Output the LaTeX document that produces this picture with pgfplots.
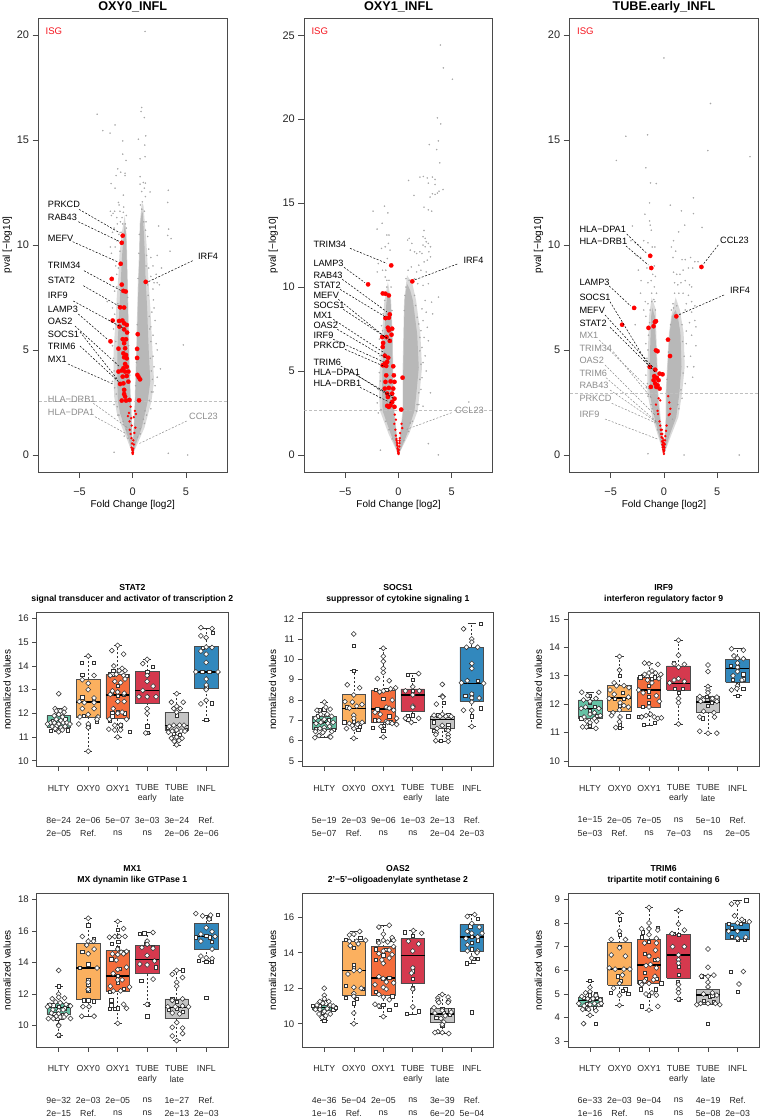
\documentclass[border=0pt]{standalone}
\usepackage{fontspec}
\setmainfont{Liberation Sans}
\usepackage{pgfplots}
\pgfplotsset{compat=1.18}
\definecolor{axln}{HTML}{4A4A4A}
\definecolor{cloud}{HTML}{B8B8B8}
\definecolor{halo}{HTML}{DADADA}
\definecolor{dotg}{HTML}{A6A6A6}
\definecolor{isg}{HTML}{F5141E}
\definecolor{lblg}{HTML}{8C8C8C}
\definecolor{cHLTY}{HTML}{66C2A5}
\definecolor{cOXYz}{HTML}{FBB05F}
\definecolor{cOXYo}{HTML}{F46D3C}
\definecolor{cTUBe}{HTML}{D5394E}
\definecolor{cTUBl}{HTML}{C4C4C4}
\definecolor{cINFL}{HTML}{3288BD}
\pgfplotsset{
  every axis title shift=0pt,
  common/.style={scale only axis,anchor=south west,
    axis line style={draw=axln,line width=.75pt},
    tick style={draw=axln,line width=.6pt},
    tick align=outside,tick pos=left,
    /pgf/number format/assume math mode=true,
    every tick label/.append style={text=black!85}},
  volcano/.style={common,width=188.5bp,height=454bp,
    xmin=-8.85,xmax=8.85,xtick={-5,0,5},xticklabels={−5,0,5},
    major tick length=6bp,
    tick label style={font=\fontsize{11}{13}\selectfont},
    xticklabel style={yshift=-6bp},
    label style={font=\fontsize{10.6}{13}\selectfont},
    title style={font=\fontsize{12.7}{15}\selectfont\bfseries,at={(axis description cs:0.5,1.024)},anchor=center},
    every axis x label/.style={at={(axis description cs:0.5,-0.0727)},anchor=center},
    every axis y label/.style={at={(axis description cs:-0.165,0.5)},rotate=90,anchor=center},
    xlabel={Fold Change [log2]},ylabel={pval [−log10]}},
  panel/.style={common,width=191.3bp,height=154bp,
    xmin=0.254,xmax=6.74,xtick={1,...,6},xticklabels={},
    major tick length=4.5bp,
    tick label style={font=\fontsize{9.6}{12}\selectfont},
    label style={font=\fontsize{9.8}{12}\selectfont},
    title style={font=\fontsize{8.7}{11}\selectfont\bfseries,align=center,at={(axis description cs:0.5,1.121)},anchor=center},
    every axis y label/.style={at={(axis description cs:-0.155,0.5)},rotate=90,anchor=center},
    ylabel={normalized values}},
  gdot/.style={only marks,mark=*,mark size=.65bp,color=dotg,mark options={draw=dotg,fill=dotg,line width=.2pt}},
  rbig/.style={only marks,mark=*,mark size=2.2bp,color=red,mark options={draw=red,fill=red,line width=.2pt}},
  rsml/.style={only marks,mark=*,mark size=1.1bp,color=red,mark options={draw=red,fill=red,line width=.2pt}},
  cld/.style={draw=none,fill=cloud},
  hal/.style={draw=none,fill=halo},
  thr/.style={draw=black!25,line width=.7pt,dash pattern=on 3bp off 2bp},
  dia/.style={only marks,mark=square*,mark size=1.75bp,color=black!80,mark options={draw=black!80,fill=white,line width=.55pt,rotate=45}},
  sqr/.style={only marks,mark=square*,mark size=1.65bp,color=black!80,mark options={draw=black!80,fill=white,line width=.55pt}},
  wsk/.style={draw=black!80,line width=.6pt},
}
% whisker low, q1, median, q3, whisker high at position #1, fill #7
\newcommand\bx[7]{%
  \addplot[wsk,dash pattern=on 2bp off 2bp] coordinates {(#1,#2) (#1,#3)};
  \addplot[wsk,dash pattern=on 2bp off 2bp] coordinates {(#1,#5) (#1,#6)};
  \addplot[wsk] coordinates {(#1-.14,#2) (#1+.14,#2)};
  \addplot[wsk] coordinates {(#1-.14,#6) (#1+.14,#6)};
  \addplot[draw=black!70,fill=#7,line width=.6pt] coordinates {(#1-.4,#3) (#1+.4,#3) (#1+.4,#5) (#1-.4,#5) (#1-.4,#3)};
  \addplot[draw=black,line width=1.5pt] coordinates {(#1-.4,#4) (#1+.4,#4)};
}
% category and p value rows under a panel: x of first category, four y
\newcommand\rows[4]{%
  \foreach \t [count=\i from 0] in {HLTY,OXY0,OXY1,TUBE,TUBE,INFL}
    \node[lab8] at (#1+\i*29.53,#2) {\t};
  \node[lab8] at (#1+3*29.53,#2+10.7) {early};
  \node[lab8] at (#1+4*29.53,#2+10.7) {late};
  \foreach \t [count=\i from 0] in {#3}
    \node[lab8] at (#1+\i*29.53,#2+32) {\t};
  \foreach \t [count=\i from 0] in {#4}
    \node[lab8] at (#1+\i*29.53,#2+45.3) {\t};
}
% gene label with leader: text left x, y, name, colour, leader x1 y1 x2 y2 (pixels)
\newcommand\gl[7]{%
  \node[anchor=west,inner sep=0pt,font=\fontsize{9.2}{11}\selectfont,text=#4] at (#1,#2) {#3};
  \draw[#4,line width=.5pt,dash pattern=on 2bp off 1.6bp] (#5,#6) -- (#7);
}
\begin{document}
\begin{tikzpicture}
\useasboundingbox (0,0) rectangle (761bp,-1119bp);

% ---------- volcano 1
\begin{axis}[volcano,at={(38.5bp,-472bp)},ymin=-0.81,ymax=20.8,ytick={0,5,10,15,20},title={OXY0\_INFL}]
\addplot[hal] coordinates {(0,0) (-.5,.7) (-1,1.3) (-1.5,2) (-1.75,2.8) (-1.8,4) (-1.8,5) (-1.6,6.5) (-1.5,7.5) (-1.35,8.5) (-1.25,9.5) (-1.05,10.5) (-.75,11.4) (-.58,10.5) (-.5,9) (-.45,8) (-.37,6) (-.3,4.5) (-.2,3) (-.1,2) (-.02,.8) (0,0)};
\addplot[hal] coordinates {(0,0) (.02,.8) (.1,1.6) (.18,2.5) (.32,5) (.47,8) (.58,9.5) (.65,11) (.85,12) (1,11.9) (1.3,10) (1.45,8.5) (1.65,7) (1.85,5) (2,3.5) (1.75,2.54) (1.1,1.3) (.5,.6) (0,0)};
\addplot[cld] coordinates {(0,0) (-.35,.7) (-.75,1.3) (-1.2,2) (-1.4,2.6) (-1.45,3.5) (-1.45,5) (-1.3,6.5) (-1.2,7.5) (-1.1,8.5) (-1,9.5) (-.85,10.5) (-.75,11) (-.62,10.5) (-.55,9) (-.5,8) (-.42,6) (-.35,4.5) (-.25,3) (-.15,2) (-.05,.8) (0,0)};
\addplot[cld] coordinates {(0,0) (.06,.8) (.15,1.6) (.22,2.5) (.38,5) (.53,8) (.63,9.5) (.7,11) (.85,11.6) (.95,11.5) (1.1,10) (1.2,8.5) (1.35,7) (1.5,5) (1.65,3.5) (1.4,2.54) (.85,1.3) (.35,.6) (0,0)};
\addplot[thr] coordinates {(-8.85,2.54) (8.85,2.54)};
\addplot[gdot] coordinates {(1.16,20.16) (.84,16.54) (.78,16.35) (1.09,16.06) (-3.34,16.22) (-2.81,15.44) (-1.66,15.71) (-2.13,15.32) (.53,15.03) (1.22,15.19) (-.94,14.95) (1.13,14.75) (-.94,14.32) (-.63,14.02) (.69,14.1) (1.16,14.2) (-1.41,13.62) (-1.13,13.46) (-1.56,13.3) (-.72,13.41) (-.72,13.3) (.69,13.25) (-2.03,12.92) (-1.66,12.7) (.69,12.89) (1,12.97) (1.19,12.94) (1.09,12.7) (.84,12.54) (1.63,12.52) (3.34,12.6) (-.88,12.37) (3.28,12.02) (-1.34,12.02) (1.19,12.3) (.9,12.05) (.72,11.9) (.85,11.7) (1.1,11.6) (-1.28,11.9) (-1.2,11.6) (-.88,11.55) (-1.7,11.6) (-2.1,11.6) (-2,11.4) (-1.85,11.5) (-1.5,11.3) (-1,11.3) (-1.15,11.1) (-.7,11) (-1.45,11) (-1.75,10.8) (-1.9,10.6) (1.25,11.1) (1.03,11.1) (2.43,10.9) (3.37,10.75) (3.28,10.45) (3.6,10.3) (1.4,10.4) (1.2,10.7) (-1.3,10.5) (-1.5,10.2) (-1.65,9.9) (-2.1,9.9) (-2,9.6) (1.5,9.8) (1.7,9.4) (2.3,9.5) (2.7,8.9) (3.5,9.7) (1.9,9) (2.2,8.6) (1.5,8.9) (1.7,8.5) (2,8.2) (2.5,8.1) (2.3,8.2) (1.9,7.9) (-1.6,9) (-1.5,8.6) (-1.7,7.8) (-2.4,7.3) (-1.9,7) (-1.7,6.7) (1.94,7.38) (2,7) (1.8,6.8) (2.1,6.4) (1.7,6.1) (1.9,5.7) (2.2,5.3) (2.3,5) (4.75,5.24) (2.6,4.1) (1.9,4.7) (2,4.2) (2.3,3.7) (2.1,3.3) (1.9,3) (-1.8,6) (-1.9,5.2) (-1.8,4.6) (-1.75,4) (-1.9,3.5) (-1.7,3.2) (-1.75,2.4) (-1.75,.13) (3.34,.08) (5.16,0) (1.7,2.2) (1.3,1.9) (-1.4,1.9) (-.8,.9) (.7,1) (1.1,1.5) (-1.5,8) (-1.4,7.2) (-1.35,8.9) (-1.2,9.7) (-1.1,10.6) (-.95,11) (-.6,11.4) (-.85,11.8) (1.3,9.5) (1.25,9) (1.4,8.1) (1.45,7.6) (1.55,6.6) (1.6,6) (1.7,5.4) (1.65,4.6) (1.75,4) (1.85,3.6) (1.75,3) (1.55,2.6) (-1.55,6.2) (-1.6,5.4) (-1.6,4.4) (-1.6,3.6) (-1.55,2.9) (-1.45,2.3) (-1.3,1.9) (1.15,2.1) (1,1.7) (.7,1.25) (-.9,1.6) (-.6,1.2) (-.45,.8) (.45,.85) (-.6,10.8) (.62,10.5) (.58,9.6) (.5,8.4) (-.48,7.5) (.42,6.2) (-.38,5.2) (.35,4.4) (-.28,3.8) (.27,3.3)};
\addplot[rsml] coordinates {(-.2,2.3) (.2,2.1) (.1,1.8) (-.15,1.75) (.3,1.95) (-.3,1.6) (-.1,1.4) (.25,1.3) (.15,1.05) (-.28,1.2) (-.2,1) (-.12,.8) (.05,.7) (.1,.5) (-.06,.55) (-.1,.35) (-.04,.25) (.04,.3) (.02,.12) (-.03,.1) (0,.05) (0,.2) (-.35,2) (-.45,1.85)};
\addplot[rbig] coordinates {(-.94,10.44) (-1.03,10.1) (-1.13,9.1) (-1.97,8.38) (-1.03,8.11) (-.88,7.81) (-.66,7.78) (-1.19,7.03) (-.81,7.02) (-1.88,6.4) (-1.28,6.38) (-.97,6.4) (-.81,6.27) (-.56,6.19) (-1.25,6.11) (-.81,5.98) (-.53,5.83) (-2.09,5.41) (-.94,5.51) (-.63,5.51) (-.81,5.32) (-1.34,5.06) (-.72,5.08) (-.88,4.84) (-.63,4.76) (-.81,4.65) (-.56,4.6) (-.72,4.33) (-.88,4.13) (-.56,4.2) (-1.34,3.97) (-1.03,4.02) (-.72,3.97) (-.41,3.97) (-.94,3.73) (-.56,3.76) (-1.19,3.38) (-.88,3.41) (-.41,3.49) (-.81,3.1) (-.81,2.9) (-1.03,2.59) (-.63,2.59) (-.31,2.62) (-.72,2.78) (1.22,8.24) (.47,5.75) (.41,5.05) (.41,4.62) (.44,3.81) (.56,3.7) (.69,3.6) (.59,2.6)};
\end{axis}

% ---------- volcano 2
\begin{axis}[volcano,at={(304.3bp,-472bp)},ymin=-1.02,ymax=26.03,ytick={0,5,10,15,20,25},title={OXY1\_INFL}]
\addplot[hal] coordinates {(0,0) (-.95,1.27) (-1.75,2.64) (-1.85,4) (-1.75,5.2) (-1.55,7.2) (-1.35,9) (-1,10.3) (-.7,9.2) (-.55,7.2) (-.5,5) (-.38,2.64) (-.17,1.27) (0,0)};
\addplot[hal] coordinates {(0,0) (.14,1.27) (.38,2.64) (.38,5) (.45,7.2) (.52,9.2) (.8,10.7) (1.3,10.2) (1.65,9.2) (2.05,7.2) (2.2,5.2) (1.95,3.5) (1.8,2.64) (1,1.27) (0,0)};
\addplot[cld] coordinates {(0,0) (-.75,1.27) (-1.5,2.64) (-1.55,4) (-1.5,5.2) (-1.35,7.2) (-1.15,9) (-1,9.8) (-.75,9.2) (-.6,7.2) (-.55,5) (-.44,2.64) (-.22,1.27) (0,0)};
\addplot[cld] coordinates {(0,0) (.19,1.27) (.44,2.64) (.44,5) (.5,7.2) (.57,9.2) (.8,10.2) (1.1,9.8) (1.35,9.2) (1.75,7.2) (1.9,5.2) (1.65,3.5) (1.5,2.64) (.82,1.27) (0,0)};
\addplot[thr] coordinates {(-8.85,2.64) (8.85,2.64)};
\addplot[gdot] coordinates {(3.93,24.42) (4.21,23.06) (5.06,22.38) (3.65,20.08) (3.96,19.72) (2.89,18.49) (3.74,18.71) (3.58,18.19) (3.87,17.4) (2.01,16.55) (2.33,16.59) (2.7,16.5) (3.18,16.55) (3.43,16.41) (.94,16.35) (2.8,16.19) (3.43,16.11) (4.18,15.81) (3.8,15.71) (3.18,15.56) (2.96,15.36) (3.43,15.52) (1.45,15.46) (3.65,15.6) (-1.32,14.82) (-2.39,14.52) (-1,14.42) (2.39,14.76) (2.8,14.6) (3.11,14.52) (-1.54,13.8) (-2.01,13.45) (2.39,13.37) (2.3,13) (2.5,12.9) (2.6,12.7) (2.8,12.6) (2.3,12.5) (2.5,12.4) (3,12.4) (2.85,12.1) (1,12.9) (.85,12.8) (1.25,12.6) (1.1,12.2) (1.5,12.1) (1.7,12) (2,12.1) (2.2,12) (-.9,13.1) (-1.1,13.1) (-.95,12.6) (-1.25,12.4) (-.8,12.2) (-1.6,12.3) (-1.05,11.7) (-1.9,11.4) (-1.5,11) (-1.2,11) (-2,10.9) (-1.25,10.6) (-1.1,10.4) (3,11.8) (2.7,11.6) (2.4,11.5) (1.9,11.3) (1.2,11.2) (.9,11) (1.7,10.9) (2.1,11) (2.6,10.9) (.7,10.5) (1.5,10.5) (1.8,10.2) (2.3,10.1) (2.8,10.2) (3.75,9.4) (3.1,9.1) (2.5,9.2) (2.2,8.7) (2.6,8.5) (3.2,8.4) (2.3,8) (2.7,7.6) (2.1,7.4) (2.4,7) (2.8,6.8) (2.2,6.4) (2.5,5.9) (2.3,5.5) (2.6,5) (2.2,4.6) (3,3.7) (2.1,3.9) (-1.5,9.6) (-1.7,8.8) (-1.6,7.7) (-1.8,6.9) (-1.75,5.9) (-1.8,4.9) (-1.9,3.9) (-2,3.1) (-1.9,2.5) (6.6,3.15) (-1.7,.28) (2.8,.67) (3.74,0) (1.9,3) (2.3,2.9) (1.5,9.5) (1.6,8.9) (1.75,8.2) (1.9,7.8) (2,7) (2,6.2) (2.1,5.4) (2,4.5) (1.9,3.7) (1.75,3) (1.7,2.6) (1.1,1.9) (.95,1.4) (1.3,2) (-1.3,9.2) (-1.45,8.4) (-1.5,7.4) (-1.6,6.4) (-1.65,5.6) (-1.7,4.4) (-1.7,3.4) (-1.65,2.7) (-1.2,2) (-.9,1.5) (-.6,.95) (.5,.85) (1,10.4) (.7,10) (.6,9.5) (.54,8.6) (-1.1,10) (-.9,10.4) (-.7,10) (-.62,8.6)};
\addplot[rsml] coordinates {(-.35,2.4) (-.25,2.1) (-.4,1.85) (-.3,1.5) (.28,1.85) (.35,1.6) (.15,1.3) (-.25,1.15) (-.2,.95) (.12,1) (-.15,.75) (.08,.7) (-.12,.55) (.06,.5) (-.09,.4) (.04,.3) (-.05,.2) (.02,.12) (0,.05) (-.03,.1) (-.18,.85) (-.13,.65) (.1,.85) (-.07,.3)};
\addplot[rbig] coordinates {(-.69,11.29) (-2.86,10.16) (1.29,10.34) (-1.48,9.62) (-1.23,9.6) (-.91,9.5) (-.82,8.37) (-1.23,8.15) (-.91,8.17) (-1,7.58) (-.6,7.52) (-.91,7.42) (-.66,7.16) (-1.54,7.02) (-1.13,7.02) (-.82,6.79) (-1.45,6.67) (-1.48,6.43) (-1.29,5.91) (-.97,5.79) (-1.29,5.44) (-1.07,5.54) (-1.48,5.34) (-1.16,5.3) (-.5,5.28) (-1.16,4.74) (-.44,4.74) (-1.23,4.35) (-.75,4.38) (-.38,4.35) (-1.29,3.95) (-.91,3.99) (-.5,3.95) (-1.07,3.65) (-.6,3.65) (-.38,3.35) (-1,3.45) (-.6,3.15) (-1.07,2.92) (-.75,2.96) (-.38,2.86) (-.91,2.86) (.38,4.6) (.25,2.7)};
\end{axis}

% ---------- volcano 3
\begin{axis}[volcano,at={(569.7bp,-472bp)},ymin=-0.81,ymax=20.8,ytick={0,5,10,15,20},title={TUBE.early\_INFL}]
\addplot[hal] coordinates {(0,0) (-.55,.9) (-1.1,1.8) (-1.55,2.94) (-1.55,4.2) (-1.45,5.8) (-1.4,6.6) (-1.15,7.5) (-.75,6.9) (-.72,5.8) (-.6,4.2) (-.52,2.94) (-.32,1.8) (-.08,.8) (0,0)};
\addplot[hal] coordinates {(0,0) (.06,.9) (.16,1.8) (.16,2.94) (.29,4.2) (.47,5.8) (.68,6.6) (1.1,7.5) (1.5,6.9) (1.85,5.8) (1.95,4.2) (1.7,2.94) (1.35,1.8) (.65,.9) (0,0)};
\addplot[cld] coordinates {(0,0) (-.45,.9) (-.9,1.8) (-1.35,2.94) (-1.35,4.2) (-1.25,5.8) (-1.2,6.6) (-1.1,7) (-.85,6.6) (-.8,5.8) (-.66,4.2) (-.6,2.94) (-.4,1.8) (-.12,.8) (0,0)};
\addplot[cld] coordinates {(0,0) (.1,.9) (.22,1.8) (.22,2.94) (.35,4.2) (.53,5.8) (.75,6.6) (1.1,6.9) (1.3,6.6) (1.55,5.8) (1.65,4.2) (1.45,2.94) (1.15,1.8) (.5,.9) (0,0)};
\addplot[thr] coordinates {(-8.85,2.94) (8.85,2.94)};
\addplot[gdot] coordinates {(0,18.9) (4.37,16.73) (-3.58,15.17) (-1.54,15.24) (4.12,14.49) (8.08,14.2) (-4.47,14.02) (-1.7,13.67) (-1.26,12.95) (-.72,12.92) (2.77,12.24) (-1.35,12) (.6,11.89) (1.64,11.62) (2.77,11.49) (-1.79,11.46) (-1.35,11.14) (1.95,10.94) (-2.96,10.9) (3.58,10.83) (-1.29,10.94) (-1.19,10.7) (1.38,10.62) (-3.1,10.2) (-2.7,10.1) (-2.4,10) (-1.9,10.2) (-1.5,10.1) (-1.1,9.9) (-.85,9.9) (-2.6,9.5) (-2.2,9.4) (-2.4,8.8) (-1.6,8.9) (-.9,9) (-1.05,8.6) (-.8,8.5) (-1.2,8.3) (-1.5,8.2) (-2.15,8.3) (-2.2,7.7) (-.9,8) (-.7,7.7) (-1.15,7.7) (-.85,7.3) (-1.75,7.3) (-1.5,7.2) (-1.9,6.9) (-1.7,6.6) (-2.7,6.2) (.9,10.2) (.7,9.9) (1.1,9.7) (.85,9.4) (1.7,9.3) (2,9.3) (2.5,9.4) (2.9,9.2) (3.2,9.2) (2.7,8.9) (2.3,8.9) (1.8,8.8) (1.5,8.6) (1.2,8.6) (.9,8.7) (2,8.3) (1.6,8.2) (1.3,8.1) (1,8.2) (2.4,8.1) (2.6,8) (1,7.7) (1.4,7.7) (1.8,7.7) (2.3,7.6) (2.6,7.3) (2.1,7.2) (.85,7.2) (2.9,7.1) (2.6,6.8) (2,6.9) (2.9,6.4) (2.4,6.3) (3,6.1) (2.1,5.9) (2.6,5.7) (2.1,5.3) (3,5.2) (2.5,4.7) (2.8,4.2) (2.7,3.7) (2.2,4.2) (2,3.4) (-1.7,5.3) (-1.6,4.6) (-1.7,3.8) (-1.65,3.2) (-1.5,.06) (1.89,0) (7.07,0) (1.7,2.7) (1.4,2.2) (-1.1,2.2) (-.95,7.4) (-1.15,7.3) (-1.3,6.9) (-1.35,6.3) (-1.45,5.7) (-1.5,5) (-1.55,4.2) (-1.55,3.4) (-1.5,2.8) (-1.2,2.4) (-.8,1.6) (-.6,1.2) (.8,1.7) (1.3,2.4) (1.6,3.1) (1.8,3.9) (1.9,4.7) (1.75,5.4) (1.7,6.2) (1.5,6.7) (1.2,7.1) (.9,7) (.7,6.9) (.62,6.2) (.42,4.9) (.3,3.6) (-.7,3.6) (-.72,5) (-.8,6.9)};
\addplot[rsml] coordinates {(-.75,2.4) (-.5,2.7) (-.35,2.6) (.4,2.8) (.5,2.5) (.6,2.2) (-.6,2.1) (-.55,1.95) (.45,1.9) (.55,1.95) (-.42,1.6) (-.35,1.4) (-.3,1.2) (.25,1.4) (.2,1.15) (-.27,1) (-.22,.85) (.13,.9) (-.18,.65) (.1,.7) (-.15,.5) (.07,.5) (-.11,.35) (.05,.35) (-.07,.25) (.02,.2) (-.04,.15) (0,.05) (-.02,.4) (-.08,.6) (-.12,.8) (-.16,1) (-.2,1.2) (-.1,.45) (.03,.55) (0,.25) (-.05,.7)};
\addplot[rbig] coordinates {(-1.29,9.48) (-1.19,8.9) (-2.8,7) (-3.93,6.2) (-1.45,6.05) (-.97,6.13) (-.85,6.33) (-.75,6.37) (3.52,8.95) (1.16,6.6) (.38,5.49) (.57,4.71) (-.75,4.98) (-.6,4.94) (-1.32,4.19) (-.82,4.06) (-.41,3.87) (-.13,3.84) (-.91,3.75) (-.66,3.67) (-.97,3.56) (-.5,3.56) (-.82,3.4) (-.6,3.32) (-1.23,3.24) (-.72,3.24) (-.41,3.16)};
\end{axis}

% ---------- STAT2
\begin{axis}[panel,at={(36.7bp,-766.7bp)},ymin=9.747,ymax=16.25,ytick={10,...,16},title={STAT2\\signal transducer and activator of transcription 2}]
\bx{1}{11.25}{11.4}{11.6}{11.9}{12.2}{cHLTY}
\bx{2}{10.4}{11.85}{12.47}{13.45}{14.42}{cOXYz}
\bx{3}{11}{11.8}{12.78}{13.65}{14.87}{cOXYo}
\bx{4}{11.17}{12.43}{12.97}{13.77}{14.28}{cTUBe}
\bx{5}{10.67}{11.27}{11.48}{12.05}{12.83}{cTUBl}
\bx{6}{11.72}{13.07}{13.75}{14.83}{15.6}{cINFL}
\addplot[sqr] coordinates {(.72,11.25) (1.3,11.28) (.82,11.7) (1.22,11.75) (.92,11.3) (1.78,14.15) (2.2,14.15) (1.8,13.62) (1.8,12.68) (2.2,12.55) (2.3,11.65) (1.85,11.9) (2,11.45) (2.72,13.65) (2.85,13.8) (3,13.15) (2.82,13.65) (3.3,13.6) (2.8,12.85) (3.2,12.8) (3,12.75) (2.82,12) (2.82,11.88) (3,12.05) (3.25,12) (2.72,11.7) (3.1,11.5) (3.42,11.23) (4.2,13.98) (4,13.75) (4,11.45) (4,11.17) (5,11.92) (4.7,11.4) (5.3,11.3) (4.9,11.15) (5.1,11.1) (6.22,15.4) (5.88,14.78) (5.87,13.75) (6.1,13.75) (6,13.1) (6.2,12.42) (6,11.72)};
\addplot[dia] coordinates {(1,12.83) (.88,12.2) (1.2,12.2) (.92,12.1) (1.05,12.1) (1.18,12.05) (.85,11.9) (1,11.95) (1.13,11.85) (.92,11.75) (1.07,11.7) (.72,11.6) (.85,11.6) (1,11.55) (1.15,11.6) (1.28,11.6) (.62,11.55) (1.38,11.55) (.78,11.45) (.92,11.45) (1.08,11.4) (1.22,11.45) (1,11.22) (.88,11.35) (1.12,11.3) (2,14.42) (2.2,13.6) (1.8,13.42) (2,13.27) (2,13) (2.2,12.65) (1.7,12.5) (1.87,12.45) (2.2,12.45) (1.8,12.2) (2.2,12.2) (2,11.95) (1.72,11.85) (2.33,11.85) (2.3,11.75) (1.68,11.55) (2,11.55) (2,11.4) (2,10.4) (3,14.87) (2.8,14.65) (3.2,14.5) (2.87,14) (3.15,13.9) (3.25,13.8) (3.05,13.8) (2.75,13.6) (2.95,13.65) (3.2,13.6) (2.9,13.35) (3.1,13.3) (3.25,13.45) (2.82,12.95) (3,12.9) (3.22,12.85) (2.75,12.8) (3,12.5) (3.22,12.5) (2.85,12.2) (3,12) (3.15,12.05) (2.72,11.75) (3.3,11.75) (2.9,11.5) (3.1,11.5) (2.7,11.33) (2.9,11.3) (3.1,11.3) (3,11) (4,14.28) (3.85,14.1) (4,13.6) (4,13.35) (4.2,13.15) (3.85,12.97) (4,12.7) (4.3,12.7) (3.72,12.7) (4,12.2) (4,12) (3.95,11.17) (5,12.83) (4.82,12.47) (5.22,12.47) (5,12.3) (4.9,12.2) (5.12,12.2) (5,12.05) (4.75,11.45) (4.9,11.5) (5.1,11.5) (5.25,11.5) (4.72,11.2) (4.85,11.25) (5,11.3) (5.15,11.25) (5.28,11.25) (4.82,10.95) (5,11) (5.18,10.95) (4.92,10.82) (5.08,10.85) (5,10.67) (5.82,15.62) (6.2,15.58) (5.82,15.27) (6,15.2) (6,14.8) (6.2,14.78) (5.82,14.63) (6,14.5) (6,14.15) (5.65,13.75) (6.4,13.75) (6,13.45) (6,13.2) (6,13) (6,12.55) (5.82,12.4)};
\end{axis}

% ---------- SOCS1
\begin{axis}[panel,at={(302.3bp,-766.7bp)},ymin=4.72,ymax=12.295,ytick={5,...,12},title={SOCS1\\suppressor of cytokine signaling 1}]
\bx{1}{6.15}{6.55}{6.9}{7.2}{7.9}{cHLTY}
\bx{2}{6.12}{6.85}{7.58}{8.27}{9.45}{cOXYz}
\bx{3}{6.18}{6.9}{7.55}{8.5}{10.55}{cOXYo}
\bx{4}{6.9}{7.43}{8.25}{8.55}{9.3}{cTUBe}
\bx{5}{5.97}{6.6}{7.05}{7.2}{8.2}{cTUBl}
\bx{6}{6.7}{7.95}{8.82}{10.6}{11.75}{cINFL}
\addplot[sqr] coordinates {(.85,7.5) (1,7.55) (.78,7.2) (1.15,7) (.7,6.6) (1.3,6.55) (.92,6.95) (2,10.67) (2,9.45) (1.75,7.65) (2,6.95) (2.2,6.7) (1.68,6.9) (2.15,6.55) (2.75,8.5) (3.1,8.5) (2.8,7.55) (3.2,7.2) (3,8.05) (2.65,6.65) (2.72,7) (3,6.75) (3,6.5) (3.25,6.9) (3.82,9.25) (4,9) (4,8.45) (3.82,7.2) (3.85,7.05) (4,7.25) (5.05,7.85) (4.72,6.9) (4.85,7.25) (5.2,7.25) (5.2,6.8) (4.7,6.5) (5.2,6.65) (4.95,6) (5.12,6.55) (5.78,8.2) (6.3,7.6) (6.2,8.95) (6,8.3) (6,8.1) (6.3,11.75) (6,7.2)};
\addplot[dia] coordinates {(1,7.9) (.75,7.5) (1.05,7.65) (1.2,7.55) (.88,7.3) (1.1,7.3) (1.25,7.2) (.7,7.1) (1,7.05) (1.3,6.9) (.72,6.85) (.88,6.9) (1.12,6.85) (1,6.65) (.85,6.6) (1.18,6.7) (.7,6.45) (1,6.5) (1.25,6.45) (.82,6.25) (1.18,6.2) (.95,6.4) (.68,6.15) (1.22,6.18) (2,11.25) (1.78,8.75) (2.2,8.6) (2,8.25) (1.7,7.92) (1.95,7.9) (2.1,7.7) (2.28,7.78) (1.85,7.6) (2,7.25) (2,7.1) (1.85,6.85) (2.15,6.85) (2.28,6.9) (1.75,6.6) (2,6.6) (2.12,6.8) (1.95,6.75) (2,6.12) (3,10.55) (3,10.15) (3,9.9) (3,9.55) (3,9.35) (2.8,9.05) (3.2,8.95) (3,8.45) (3.25,8.55) (3.42,8.6) (2.88,8.4) (3.3,8) (3.1,7.65) (2.72,7.4) (2.9,7.3) (3.2,7.6) (3.35,7.5) (3.45,7.1) (2.85,7) (3.1,6.95) (3.3,6.85) (3.45,6.8) (2.92,6.7) (3.15,6.9) (3,6.18) (4.2,9.3) (4,8.65) (3.75,8.45) (4.22,8.45) (4,8.25) (4,7.7) (4,7.65) (3.75,7.1) (4.2,7.1) (3.95,6.9) (5,8.77) (5,8.2) (5.02,8.15) (4.8,7.8) (4.72,7.25) (5,7.3) (5.12,7.2) (5.3,7.2) (4.92,7.2) (4.82,6.6) (5,6.75) (5.2,6.5) (4.8,6.4) (5.2,6.3) (5.2,6.15) (4.78,6.3) (4.78,6) (5.2,5.97) (5.72,11.5) (6,11) (6,10.85) (5.82,10.6) (6.2,10.6) (6,9.8) (6,9.55) (5.65,8.85) (5.85,8.95) (6.4,8.82) (6,8.3) (6,8.1) (6.25,8.1) (6,7.9) (5.72,7.5) (6,7.5) (6,6.7)};
\end{axis}

% ---------- IRF9
\begin{axis}[panel,at={(568bp,-766.7bp)},ymin=9.8,ymax=15.22,ytick={10,...,15},title={IRF9\\interferon regulatory factor 9}]
\bx{1}{11.15}{11.5}{11.85}{12.15}{12.42}{cHLTY}
\bx{2}{11.17}{11.75}{12.22}{12.65}{13.68}{cOXYz}
\bx{3}{11.27}{11.9}{12.5}{12.95}{13.45}{cOXYo}
\bx{4}{11.3}{12.5}{12.73}{13.35}{14.25}{cTUBe}
\bx{5}{10.98}{11.7}{12.07}{12.27}{12.62}{cTUBl}
\bx{6}{12.3}{12.77}{13.25}{13.57}{13.95}{cINFL}
\addplot[sqr] coordinates {(1,12.3) (1,12.05) (.7,11.5) (1,11.75) (1.15,11.9) (1.25,11.6) (1,11.25) (2,13) (2.1,12.4) (1.85,12.2) (2.15,12.2) (2,11.95) (2.3,11.58) (2,11.28) (2,11.17) (2.8,13) (2.7,12.95) (3,12.65) (3,12.45) (3,12.25) (3,12.05) (2.8,11.9) (3.1,12.9) (3.2,12.95) (2.65,11.55) (2.82,11.27) (3.2,11.35) (3.85,13.45) (4.15,12.55) (3.88,12.55) (4,12.4) (4.95,12.25) (5.1,12.2) (5,11.95) (4.82,11.5) (5.12,12.05) (5.78,13.35) (6.22,12.88) (6,13.3) (6.2,13.05) (5.85,12.85) (6,12.7) (6.2,12.55) (6,12.3)};
\addplot[dia] coordinates {(.72,12.42) (1.3,12.42) (.92,12.3) (.78,12.15) (1.2,12.2) (1,12.1) (.7,11.85) (1.3,11.85) (.85,11.9) (1,11.65) (1.15,11.7) (.8,11.55) (1.15,11.5) (1.35,11.6) (.9,11.4) (1,11.35) (1.22,11.4) (.75,11.2) (.88,11.2) (1.2,11.15) (2,13.68) (2,13.2) (1.82,12.75) (1.9,12.65) (2.15,12.65) (2.32,12.58) (1.68,12.5) (1.82,12.35) (2.3,12.25) (1.65,12.2) (2.02,12.05) (2.15,11.95) (2.3,11.9) (1.78,11.7) (2,11.8) (1.73,11.6) (2.02,11.55) (2,11.38) (1.87,11.18) (2.85,13.45) (3,13.42) (3.3,13.4) (2.85,13.05) (3,13.1) (3.1,13.17) (3.22,13.1) (3.4,13.05) (3.33,12.9) (2.95,12.85) (3.1,12.75) (2.65,12.5) (2.8,12.4) (3.25,12.3) (3.35,12.1) (3,11.9) (2.75,11.55) (2.9,11.6) (3.05,11.65) (3.18,11.55) (3.3,11.5) (3.42,11.52) (4,14.25) (4,13.72) (3.85,13.42) (4.2,13.4) (4,13.3) (3.85,12.85) (4,12.9) (4.2,12.8) (3.7,12.75) (4,12.2) (4,12.05) (4,11.3) (5,13.38) (5,13.15) (5,12.62) (5,12.5) (5,12.4) (4.72,12.27) (4.85,12.15) (5.15,12.2) (5.3,12.25) (4.75,12.1) (5.3,12.1) (4.72,11.55) (5.22,11.55) (4.85,11.75) (5.2,11.7) (4.72,11.05) (5,10.98) (5.3,10.98) (5.8,13.95) (6.2,13.9) (5.88,13.7) (6,13.62) (6.2,13.6) (6,13.3) (6,13.15) (5.85,13) (6.15,12.85) (5.8,12.5) (6,12.65) (5.98,12.55) (6,13.45)};
\end{axis}

% ---------- MX1
\begin{axis}[panel,at={(36.7bp,-1047.3bp)},ymin=8.63,ymax=18.38,ytick={10,12,...,18},title={MX1\\MX dynamin like GTPase 1}]
\bx{1}{9.4}{10.75}{11.15}{11.4}{12.5}{cHLTY}
\bx{2}{10.6}{11.65}{13.65}{15.2}{16.8}{cOXYz}
\bx{3}{10.15}{12.2}{13.15}{14.75}{16.6}{cOXYo}
\bx{4}{11.35}{13.3}{14.2}{15.1}{15.9}{cTUBe}
\bx{5}{9.05}{10.45}{11.15}{11.7}{13.5}{cTUBl}
\bx{6}{14.05}{14.85}{15.65}{16.5}{17}{cINFL}
\addplot[sqr] coordinates {(1,12.5) (.82,11.3) (1,11.2) (1.2,11.1) (.85,10.75) (1.15,10.7) (.95,10.45) (1.1,10.5) (1,9.4) (2,16.35) (2.2,15.5) (1.8,14.7) (2,13.88) (1.72,13.65) (2,12.9) (2,12.6) (2,12.25) (2,11.6) (1.85,11.6) (2.2,11.55) (3,16.05) (3.02,15.3) (2.8,15.2) (3,14.9) (2.78,14.2) (3.05,13.6) (3,13.15) (3,12.7) (3.2,12.35) (2.72,12.15) (2.78,11.6) (2.78,11.3) (2.72,11.05) (2.9,11.05) (3,11.1) (3.75,15.8) (3.9,15.85) (4.2,15) (3.95,15.2) (4.3,13.7) (3.8,12.85) (4,10.6) (4.02,11.35) (5.2,13.5) (4.85,11.7) (5,11.5) (5,11.1) (4.72,11) (5.2,10.9) (6.4,17) (5.65,15.6) (6,15.7) (6.2,15.3) (6.12,15.6) (5.75,14.1) (6,14.05) (6.2,14.05) (6,11.75) (6.1,16.8)};
\addplot[dia] coordinates {(1,13.5) (.78,11.7) (1.2,11.75) (1,12) (1,11.8) (.7,11.3) (.9,11.5) (1.05,11.45) (1.25,11.35) (.62,11.2) (.8,11) (1,10.95) (1.15,11) (1.4,11.25) (.75,10.8) (1,10.75) (.92,10.6) (1.25,10.7) (.65,10.45) (.82,10.45) (1.05,10.55) (1.18,10.55) (1.4,10.45) (1,10.05) (1,10) (1,9.4) (2,16.8) (1.8,15.65) (2,15.35) (2.18,15.35) (1.95,15.1) (2.2,14.85) (2,14.55) (2.3,13.65) (2,12.75) (2,12.3) (1.82,11.2) (2.03,11.2) (1.78,10.6) (2.2,10.6) (3,16.6) (3.2,16.15) (2.72,15.6) (2.9,15.65) (3.05,15.65) (3.25,15.65) (3,14.85) (3.12,14.65) (2.82,14.55) (3,14.5) (3.2,14.55) (3.3,14.7) (2.95,14.15) (3.3,13.7) (3,13.55) (2.85,13.3) (3,12.9) (3.15,12.9) (2.75,12.5) (3.4,12.45) (2.85,12.2) (3.1,12.2) (3.2,11.35) (3.3,11.1) (3,10.15) (4.2,15.9) (4,15.35) (4,15.15) (3.82,14.95) (4.2,14.9) (4,14.45) (3.75,13.9) (4.25,14.1) (4.2,12.95) (4,13.85) (4,11.35) (5,13.5) (4.85,13.25) (5.2,13.05) (5,12.75) (5,12.5) (4.85,11.6) (5.2,11.7) (4.7,11.2) (4.95,11.2) (5.2,11.25) (5.4,11.2) (4.85,10.8) (5.1,10.75) (5,10.2) (4.85,9.9) (5.2,9.85) (5.2,9.5) (4.85,9.35) (5,9.05) (5.65,17.1) (5.88,16.95) (6.15,17) (6.1,16.75) (6,16.2) (6.2,15.95) (5.82,15.8) (5.82,15.35) (6.3,15.65) (6.2,14.85) (5.82,14.4) (6,14.3) (6.2,14.25)};
\end{axis}

% ---------- OAS2
\begin{axis}[panel,at={(302.3bp,-1047.3bp)},ymin=8.67,ymax=17.35,ytick={10,12,...,16},title={OAS2\\2'−5'−oligoadenylate synthetase 2}]
\bx{1}{10.2}{10.75}{10.9}{11.05}{11.3}{cHLTY}
\bx{2}{10}{11.6}{13}{14.65}{15.2}{cOXYz}
\bx{3}{10.4}{11.6}{12.57}{14.35}{15.55}{cOXYo}
\bx{4}{10.55}{12.25}{13.85}{14.8}{15.25}{cTUBe}
\bx{5}{9.45}{10.1}{10.55}{10.85}{11.65}{cTUBl}
\bx{6}{13.4}{14.1}{14.88}{15.6}{16.15}{cINFL}
\addplot[sqr] coordinates {(1,10.2) (1,10.35) (.85,11) (1.15,11) (.7,10.9) (1.3,10.8) (.95,10.6) (1.4,10.9) (.62,11) (1.72,14.75) (2.22,14.85) (2,14.3) (2,13.3) (2,13.15) (1.72,12.15) (2.3,11.95) (1.72,11.45) (2.1,11.4) (2,11.15) (2.82,14.65) (2.75,14.2) (3.1,14.15) (3,13.85) (3.3,14.75) (2.75,13.6) (3.2,12.6) (3,12.55) (2.75,11.8) (3.3,11.55) (3,11.05) (2.88,10.95) (3.2,10.8) (3.42,11.05) (3.72,15.15) (4,14.95) (4,13.15) (4,12.95) (4,12.55) (4,12) (3.8,10.55) (4.2,10.7) (5,10.85) (5.05,10.6) (4.8,10.35) (5.25,10.5) (5.25,10.75) (5,9.9) (5.95,15.5) (6.2,15.9) (6,14.9) (6.2,14.7) (6,14.55) (6,14.2) (5.82,13.4) (6.2,13.65) (6.05,13.65) (6,10.65)};
\addplot[dia] coordinates {(1,12) (1,11.6) (1,11.4) (.85,11.25) (1.15,11.25) (.75,11.05) (.95,11.15) (1.2,11.05) (.7,10.8) (1.1,10.85) (.85,10.8) (1.3,11) (1,10.7) (.82,10.55) (1.2,10.55) (1.05,10.45) (.92,10.35) (2,15.05) (1.85,15) (2.2,15.2) (1.85,14.65) (2.1,14.65) (2.4,14.7) (1.88,14.4) (2.15,14.5) (1.8,12.8) (2,13) (2.2,13) (2,12.05) (2.25,12) (2,11.7) (2,11.55) (2,10.6) (2,10) (2.85,15.45) (3.2,15.55) (3,15.05) (3,14.7) (3.3,14.85) (3.35,14.7) (2.85,14.55) (3,14.1) (3.15,14.6) (3.2,14.15) (3.35,14.35) (2.95,13.6) (2.85,13.95) (3.3,13.9) (3,13.4) (3.2,13.7) (2.85,12.65) (3,12.55) (3.1,12.35) (2.72,12.2) (3,12.05) (3.35,12.3) (3.1,11.95) (2.85,11.65) (3,11.5) (3.2,11.35) (2.72,11.1) (3,10.4) (2.85,11) (4.02,15.25) (4.3,15.1) (3.85,14.65) (4.2,14.5) (4,14.1) (4,13.15) (3.95,12.85) (4,11.95) (4,10.95) (5,11.65) (4.85,11.45) (5.2,11.5) (4.85,11.3) (5.22,11.3) (5.2,11.2) (4.88,11.2) (4.72,10.9) (5,10.75) (5.3,10.65) (4.75,10.6) (5.1,10.45) (4.95,10.3) (5.05,10.1) (5,9.95) (4.85,9.55) (5,9.5) (5.22,9.45) (4.75,9.5) (5.85,16.05) (6.1,16.15) (6,15.65) (5.85,15.2) (6.25,15.45) (6,15.1) (5.8,14.8) (6.2,14.9) (6.35,15.1) (5.85,14.45) (5.85,14.1) (6.2,14.1) (6.18,14) (6,13.7)};
\end{axis}

% ---------- TRIM6
\begin{axis}[panel,at={(568bp,-1047.3bp)},ymin=2.75,ymax=9.25,ytick={3,...,9},title={TRIM6\\tripartite motif containing 6}]
\bx{1}{4.1}{4.5}{4.72}{4.85}{5.55}{cHLTY}
\bx{2}{4.52}{5.38}{6.05}{7.17}{8.42}{cOXYz}
\bx{3}{4.32}{5.45}{6.22}{7.3}{8.65}{cOXYo}
\bx{4}{4.78}{5.68}{6.65}{7.52}{8.52}{cTUBe}
\bx{5}{4.55}{4.55}{4.95}{5.2}{5.8}{cTUBl}
\bx{6}{7.3}{7.3}{7.7}{8}{8.95}{cINFL}
\addplot[sqr] coordinates {(1,5.55) (1.2,3.75) (1.22,4.85) (1.2,5) (.78,4.85) (1,4.75) (.88,4.6) (.9,4.4) (1.15,4.42) (1,4.95) (2,8.15) (2,7.5) (2.02,7) (1.7,5.05) (1.95,5.75) (2.05,5.55) (2.2,5.2) (2.3,5) (2.12,5.15) (2.8,7.6) (2.75,7.4) (3,7.2) (3.3,7.8) (2.85,6.7) (3.2,6.45) (3,6.6) (2.85,5.9) (2.9,5.65) (3.25,5.65) (2.7,5.5) (3.42,5.45) (3.22,5.2) (2.73,5.2) (3,4.95) (2.75,4.48) (3.85,7.55) (4.0,7.5) (4,6.15) (4,5.8) (3.98,5.5) (4,4.78) (5.05,4.9) (4.85,4.7) (5.15,4.95) (4.78,5.75) (5,3.75) (5.2,4.65) (5.78,5.95) (6,5.1) (5.7,7.95) (5.8,7.8) (6.3,8.95) (6.12,7.95) (6.2,8.1) (5.8,7.42) (6,7.3) (6.25,7.3)};
\addplot[dia] coordinates {(1,5.28) (1,5.1) (.85,5.05) (1.2,4.95) (.72,4.9) (.92,4.8) (1.1,4.8) (1.35,4.75) (.62,4.6) (.8,4.5) (1,4.55) (1.15,4.6) (1.3,4.55) (1.38,4.6) (.75,4.35) (.95,4.35) (1.2,4.3) (1,4.1) (.78,3.75) (2,8.42) (2,7.65) (1.72,7.3) (2.2,7.3) (2,6.95) (1.72,6.65) (2.2,6.6) (1.65,6.1) (1.85,6.05) (2.15,6.05) (2.35,6.05) (1.8,5.25) (2,5.45) (2.1,5.8) (2,4.95) (2,4.52) (3,8.65) (3,8) (2.75,7.75) (3,7.75) (3.3,7.7) (3,7.5) (3.25,7.35) (2.85,7.15) (3.25,7.15) (3.22,6.85) (3,6.6) (3.3,6.45) (2.9,6.2) (3.05,6.25) (3.25,6.1) (2.85,5.55) (3.2,5.75) (3.15,5.6) (3,5.45) (2.75,5.4) (2.9,5) (3.1,5.05) (3.25,4.95) (3,4.32) (3.3,4.48) (4,8.52) (4,7.95) (3.78,7.55) (4.2,7.7) (3.8,7) (4.2,7) (4,6.65) (4,6.45) (4,6.3) (4,5.4) (4,5.2) (4,5.05) (4,4.78) (5,6.9) (5,6.13) (4.78,5.75) (5,5.75) (5.2,5.8) (5,5.5) (5,5.3) (4.85,5) (5.15,5.05) (5.3,4.95) (4.75,4.6) (5,4.6) (5.25,4.6) (5.4,4.55) (4.62,4.55) (5.8,8.8) (6,8.85) (5.9,8.3) (6.15,8.15) (6,8) (5.7,7.65) (6,7.65) (6.4,8.05) (6.28,7.4) (6.05,5.42) (6.2,5.95) (6,7.35)};
\end{axis}

% ---------- annotation text, leaders (page pixels, y downwards)
\begin{scope}[x=1bp,y=-1bp,lab8/.style={font=\fontsize{8.8}{10}\selectfont,text=black!85,inner sep=0pt}]
\foreach \x in {47,312.8,578.4} \node[anchor=west,inner sep=0pt,text=isg,font=\fontsize{9.6}{11}\selectfont] at (\x-1.5,31.7) {ISG};

\rows{58.7}{788}{8e−24,2e−06,5e−07,3e−03,3e−24,Ref.}{2e−05,Ref.,ns,ns,2e−06,2e−06}
\rows{324.3}{788}{5e−19,2e−03,9e−06,1e−03,2e−13,Ref.}{5e−07,Ref.,ns,ns,2e−04,2e−03}
\rows{590}{788}{1e−15,2e−05,7e−05,ns,5e−10,Ref.}{5e−03,Ref.,ns,7e−03,ns,2e−05}
\rows{58.7}{1068.3}{9e−32,2e−03,2e−05,ns,1e−27,Ref.}{2e−15,Ref.,ns,ns,2e−13,2e−03}
\rows{324.3}{1068.3}{4e−36,5e−04,2e−05,ns,3e−39,Ref.}{1e−16,Ref.,ns,ns,6e−20,5e−04}
\rows{590}{1068.3}{6e−33,2e−03,9e−04,ns,4e−19,Ref.}{1e−16,Ref.,ns,ns,5e−08,2e−03}

% volcano 1
\gl{47.7}{204.3}{PRKCD}{black}{79}{209.3}{120,233}
\gl{47.7}{217.3}{RAB43}{black}{78.3}{221.7}{120,241.7}
\gl{47.7}{238}{MEFV}{black}{72.7}{241.7}{118,262}
\gl{47.7}{265.7}{TRIM34}{black}{84}{270.7}{121.7,291}
\gl{47.7}{280}{STAT2}{black}{83.3}{285.7}{120,306.7}
\gl{47.7}{295.7}{IRF9}{black}{73.3}{301}{124,328.5}
\gl{47.7}{309}{LAMP3}{black}{78.3}{314}{108.3,340}
\gl{47.7}{321.7}{OAS2}{black}{75}{326}{120,367}
\gl{47.7}{334.3}{SOCS1}{black}{80}{332}{118,380}
\gl{47.7}{346.7}{TRIM6}{black}{80}{346}{120,383}
\gl{47.7}{359.3}{MX1}{black}{68}{364}{113,384}
\gl{47.7}{399.3}{HLA−DRB1}{lblg}{93.3}{403.3}{128.3,428.3}
\gl{47.7}{412}{HLA−DPA1}{lblg}{95}{416.7}{126.7,434}
\gl{189}{416}{CCL23}{lblg}{186.7}{421}{138.3,444}
\gl{198}{256}{IRF4}{black}{192.7}{260.7}{148.3,281.7}
% volcano 2
\gl{313.3}{244.7}{TRIM34}{black}{350}{248.3}{386.7,263.3}
\gl{313.3}{263.3}{LAMP3}{black}{344}{267.3}{365,282.7}
\gl{313.3}{275.3}{RAB43}{black}{342.3}{279.3}{386.7,311.7}
\gl{313.3}{285.3}{STAT2}{black}{340}{289.3}{385,316.7}
\gl{313.3}{295.3}{MEFV}{black}{338.3}{299.3}{386.7,338.3}
\gl{313.3}{305.3}{SOCS1}{black}{343.3}{309.3}{390,340}
\gl{313.3}{315.7}{MX1}{black}{333.3}{319.3}{385,353.3}
\gl{313.3}{325.3}{OAS2}{black}{337.3}{329.3}{386.7,358.3}
\gl{313.3}{335.3}{IRF9}{black}{333.3}{339.3}{383.3,361.7}
\gl{313.3}{345.3}{PRKCD}{black}{345}{349.3}{385,366.7}
\gl{313.3}{362}{TRIM6}{black}{340.7}{366}{393.3,396.7}
\gl{313.3}{372.3}{HLA−DPA1}{black}{358.3}{376}{393.3,398.3}
\gl{313.3}{383.3}{HLA−DRB1}{black}{360}{387.3}{391.7,403.3}
\gl{463.3}{260.7}{IRF4}{black}{457.3}{264}{414.3,280}
\gl{455}{410.3}{CCL23}{lblg}{451.7}{412.7}{406.7,429.3}
% volcano 3
\gl{579.3}{229.3}{HLA−DPA1}{black}{626.7}{234}{646.7,253.3}
\gl{579.3}{241.7}{HLA−DRB1}{black}{626}{246}{648.3,265}
\gl{579.3}{282.7}{LAMP3}{black}{609.3}{286}{630.7,306}
\gl{579.3}{297.3}{SOCS1}{black}{610}{301.7}{648.3,365}
\gl{579.3}{310.3}{MEFV}{black}{605}{315}{654,368.3}
\gl{579.3}{323}{STAT2}{black}{610}{327.3}{655,371.7}
\gl{579.3}{335.3}{MX1}{lblg}{599.3}{340}{650,390}
\gl{579.3}{348}{TRIM34}{lblg}{613.3}{351.7}{651.7,398.3}
\gl{579.3}{360.7}{OAS2}{lblg}{605}{365}{655,415}
\gl{579.3}{373.3}{TRIM6}{lblg}{606}{377.7}{656.7,421.7}
\gl{579.3}{385.7}{RAB43}{lblg}{610}{390}{658.3,423.3}
\gl{579.3}{398.3}{PRKCD}{lblg}{611.7}{403.3}{658.3,424}
\gl{579.3}{414.3}{IRF9}{lblg}{605}{419}{658.3,439.3}
\gl{720}{240.7}{CCL23}{black}{718.3}{245}{702.7,265}
\gl{730}{290.3}{IRF4}{black}{724}{295}{678.3,315}
\end{scope}
\end{tikzpicture}
\end{document}
